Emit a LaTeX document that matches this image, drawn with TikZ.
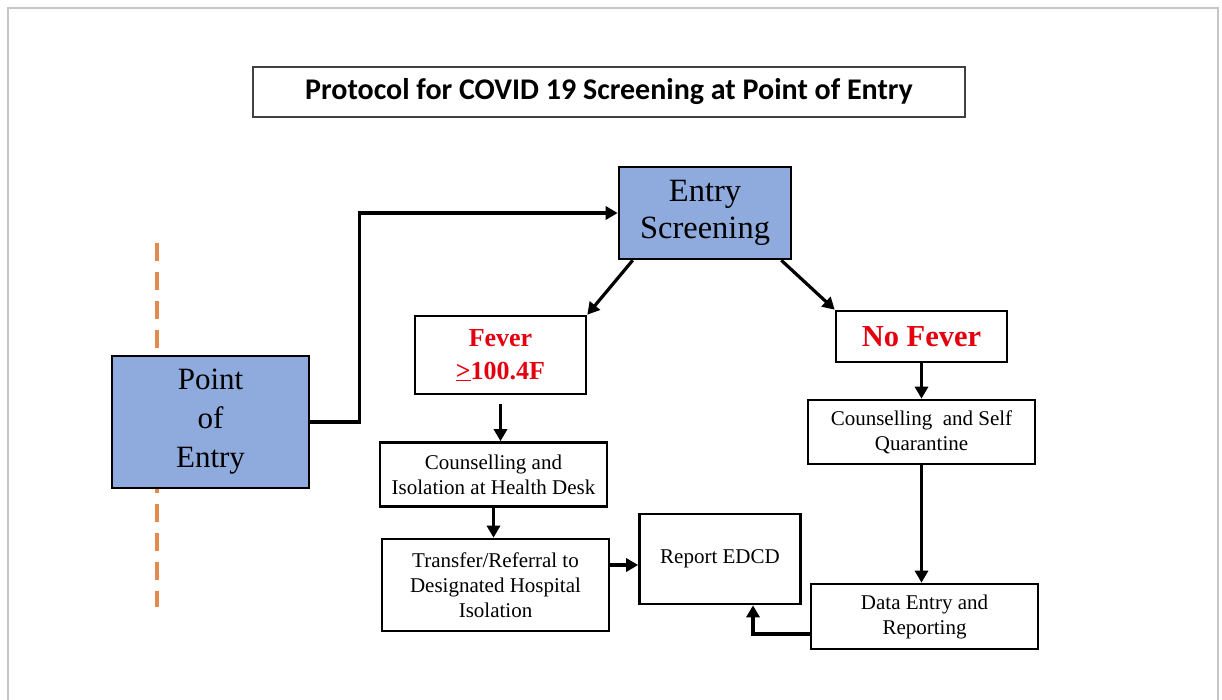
\documentclass[tikz,border=0pt]{standalone}
\usepackage{fontspec}
\setmainfont{Liberation Serif}
\newfontfamily\titlefont{Carlito}
\usetikzlibrary{arrows.meta}
\definecolor{boxblue}{HTML}{8FAADC}
\definecolor{lineorange}{HTML}{E38A4E}
\definecolor{feverred}{HTML}{E3000F}
\begin{document}
\begin{tikzpicture}[x=1pt,y=-1pt,
    box/.style={draw,line width=2.6pt,inner sep=0pt,align=center},
    bluebox/.style={box,fill=boxblue,font=\fontsize{31}{39}\selectfont},
    redbox/.style={box,text=feverred,font=\bfseries\fontsize{26}{33}\selectfont},
    stepbox/.style={box,font=\fontsize{21}{25}\selectfont},
    arr/.style={line width=3.2pt,-{Triangle[length=12pt,width=13pt]}}]
    \useasboundingbox (0,0) rectangle (1222,700);
    \draw[gray!45,line width=2.5pt] (8,702) -- (8,8) -- (1218,8) -- (1218,702);

    % title
    \node[draw=black!75,line width=1.3pt,minimum width=712pt,minimum height=50pt,
          font=\titlefont\bfseries\fontsize{30}{34}\selectfont] (title) at (609,92)
        {Protocol for COVID 19 Screening at Point of Entry};

    % border line and entry point
    \draw[lineorange,line width=4pt,dash pattern=on 18pt off 11pt] (157,243) -- (157,607);
    \node[bluebox,minimum width=197pt,minimum height=132pt] (entry) at (210.5,422) {Point\\of\\Entry};
    \node[bluebox,minimum width=172pt,minimum height=92pt,
          font=\fontsize{32.5}{37}\selectfont] (screening) at (705,213) {Entry\\Screening};

    % fever branch
    \node[redbox,minimum width=171pt,minimum height=78pt] (fever) at (500.5,355)
        {Fever\\\underline{>}100.4F};
    \node[stepbox,minimum width=227pt,minimum height=64pt] (isolation) at (493.5,474.5)
        {Counselling and\\Isolation at Health Desk};
    \node[stepbox,minimum width=227pt,minimum height=92pt] (transfer) at (495.5,585)
        {Transfer/Referral to\\Designated Hospital\\Isolation};
    \node[stepbox,minimum width=161pt,minimum height=90pt] (report) at (720,559) {Report EDCD};

    % no fever branch
    \node[redbox,minimum width=171pt,minimum height=51pt,
          font=\bfseries\fontsize{30.5}{34}\selectfont] (nofever) at (921.5,336.5) {No Fever};
    \node[stepbox,minimum width=227pt,minimum height=64pt] (quarantine) at (921.5,432)
        {Counselling\ \ and Self\\Quarantine};
    \node[stepbox,minimum width=227pt,minimum height=65pt] (dataentry) at (924.5,616.5)
        {Data Entry and\\Reporting};

    % connectors
    \draw[arr] (entry.east) -- ++(49,0) |- (screening.west);
    \draw[arr] ([xshift=15pt]screening.south west) -- (fever.north east);
    \draw[arr] ([xshift=-11pt]screening.south east) -- (nofever.north west);
    \draw[arr] ([yshift=-9pt]fever.south) -- (fever.south |- isolation.north);
    \draw[arr] (isolation.south) -- (isolation.south |- transfer.north);
    \draw[arr] ([yshift=20pt]transfer.east) -- ([yshift=-6pt]report.west);
    \draw[arr] (nofever.south) -- (quarantine.north);
    \draw[arr] (quarantine.south) -- (quarantine.south |- dataentry.north);
    \draw[arr] ([yshift=-17.5pt]dataentry.west) -| ([xshift=33pt]report.south);
\end{tikzpicture}
\end{document}
